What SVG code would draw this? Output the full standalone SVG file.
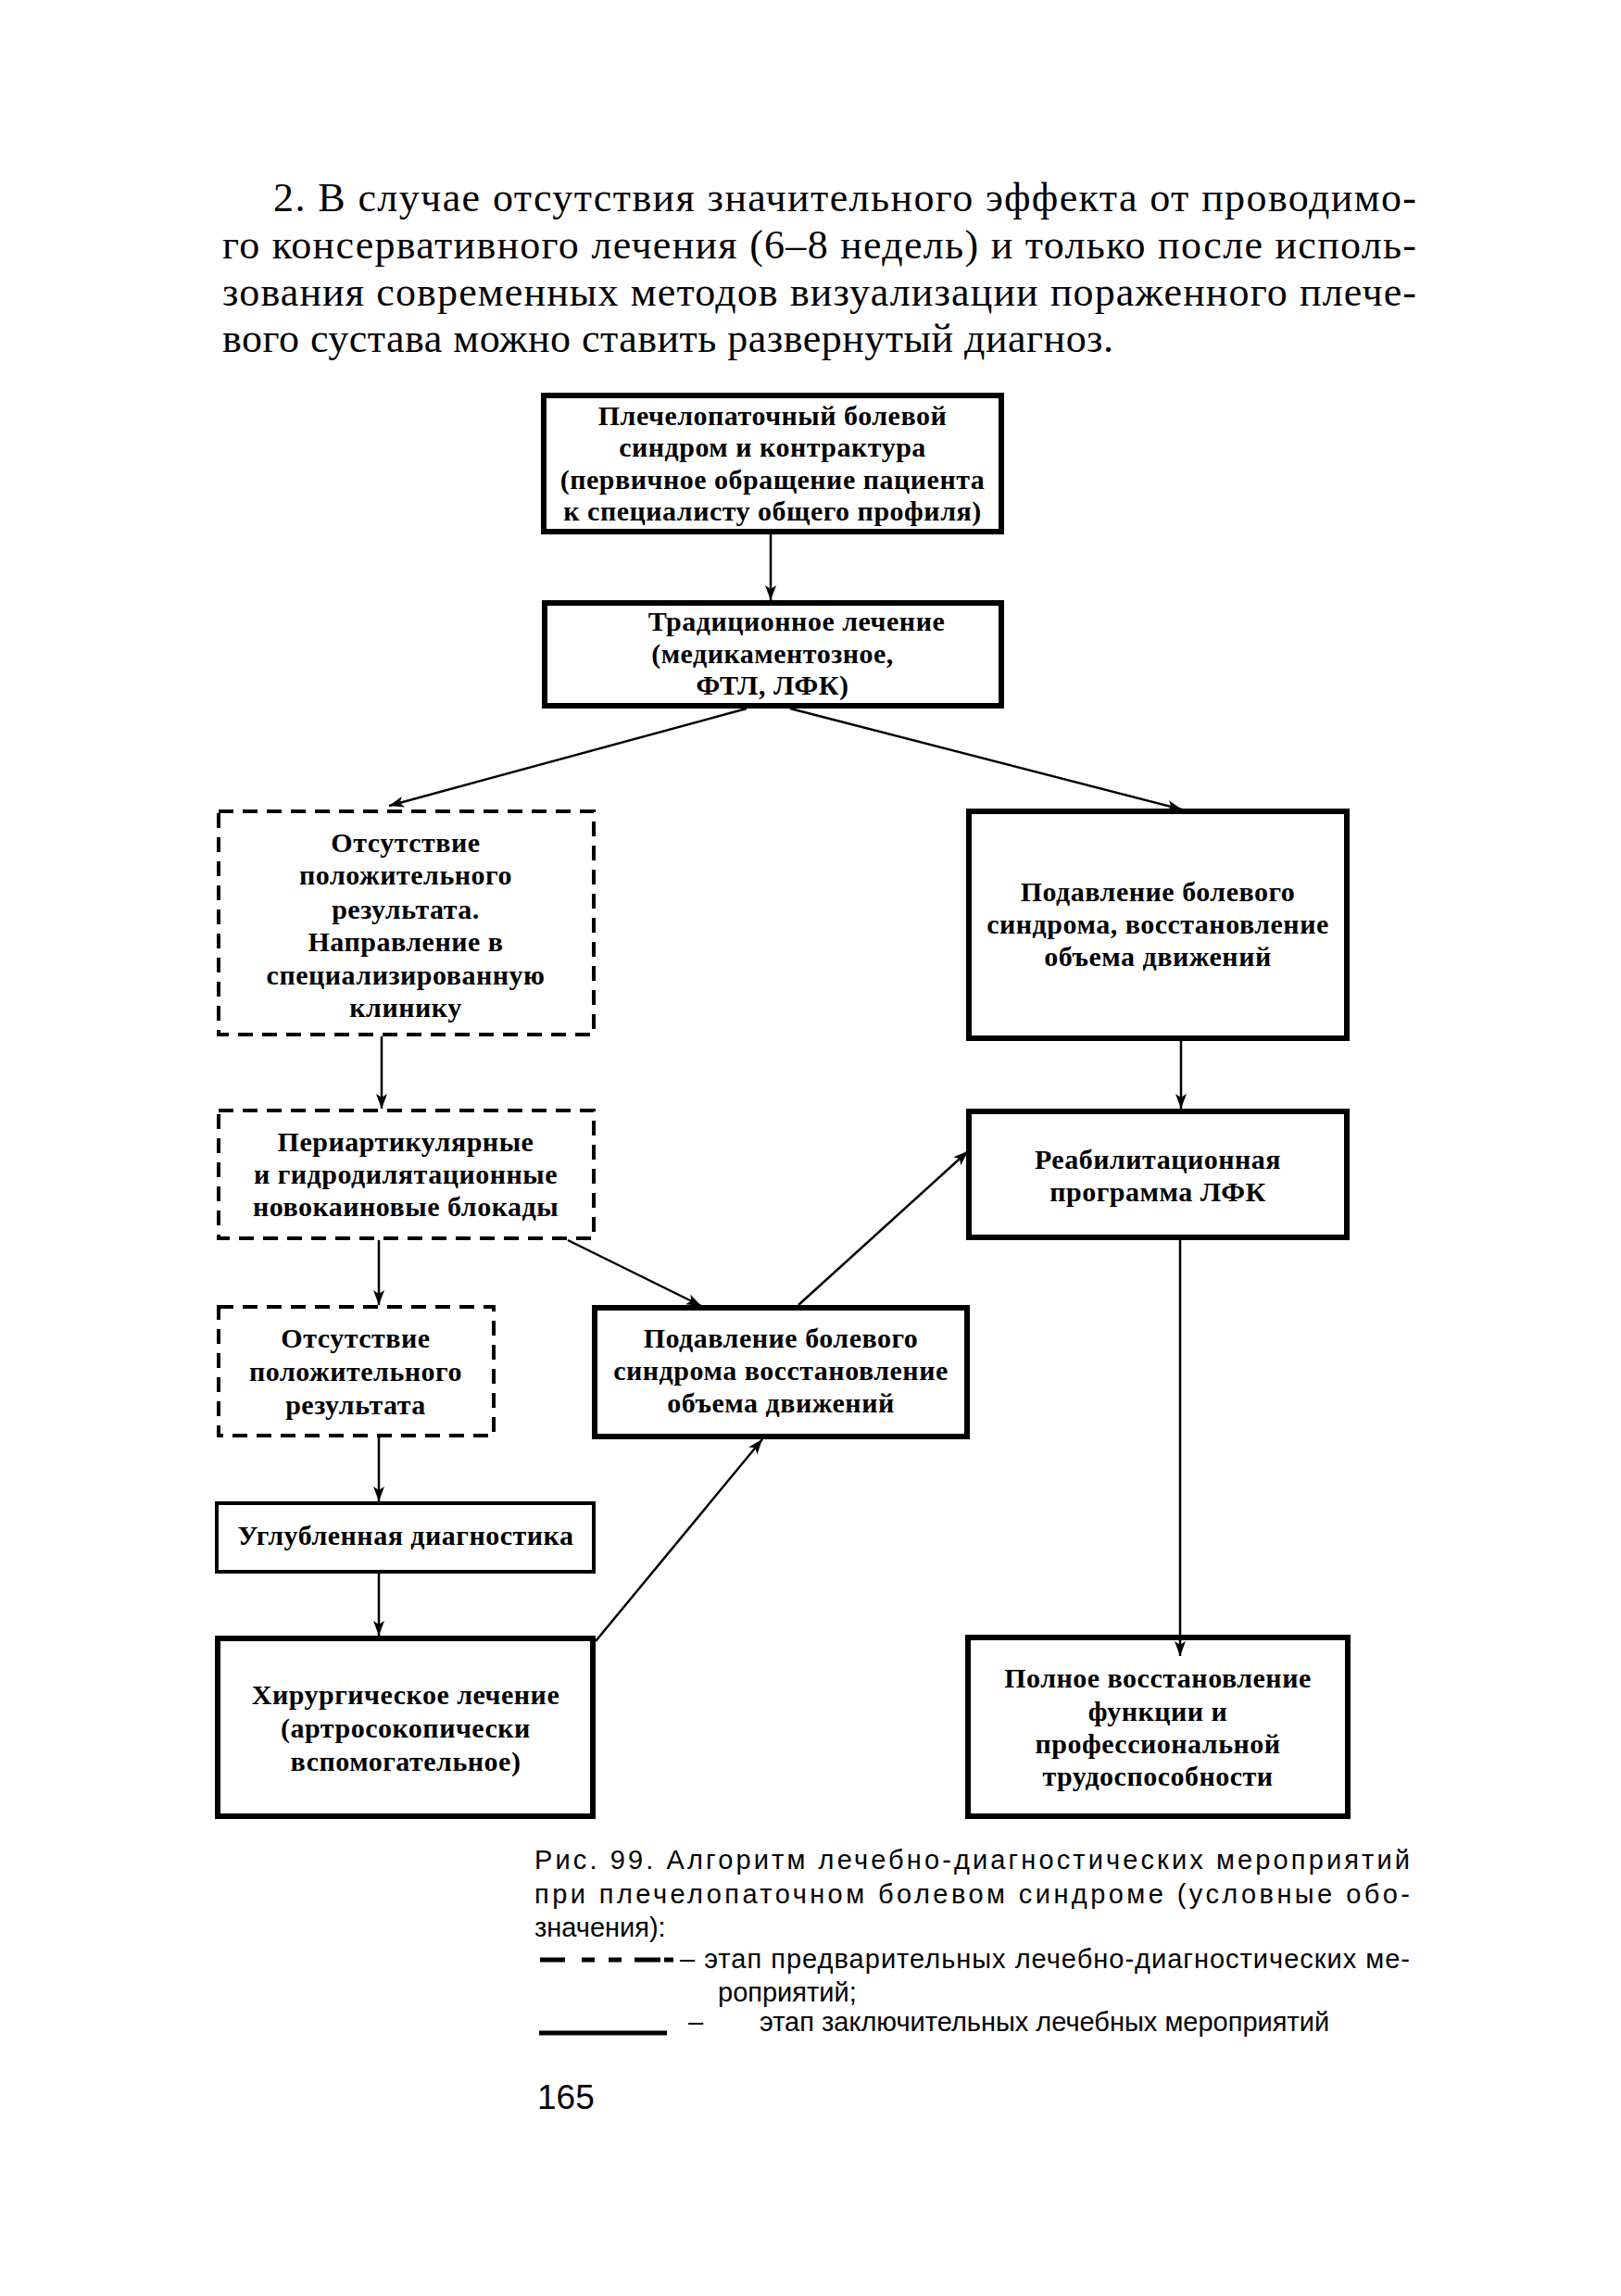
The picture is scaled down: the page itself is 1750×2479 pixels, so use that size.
<svg xmlns="http://www.w3.org/2000/svg" width="1750" height="2479" viewBox="0 0 1750 2479">
<style>
.bg{fill:#fff}
.box{fill:none;stroke:#000;stroke-width:6}
.thin{fill:none;stroke:#000;stroke-width:4}
.dash{fill:none;stroke:#000;stroke-width:4;stroke-dasharray:16 10}
.c{stroke:#000;stroke-width:2.5;fill:none}
.b{font-family:"Liberation Serif","Times New Roman",serif;font-weight:bold;font-size:30px;letter-spacing:0.5px;text-anchor:middle;fill:#000}
.p{font-family:"Liberation Serif","Times New Roman",serif;font-size:44px;fill:#000}
.s{font-family:"Liberation Sans",Arial,sans-serif;font-size:29px;fill:#000}
</style>
<defs>
<marker id="ah" markerUnits="userSpaceOnUse" markerWidth="18" markerHeight="14" refX="16" refY="6" orient="auto">
<path d="M0,0 L16,6 L0,12 L4,6 z" fill="#000"/>
</marker>
</defs>
<rect class="bg" x="0" y="0" width="1750" height="2479"/>
<g id="paragraph">
<text class="p" x="295" y="228" textLength="1234" lengthAdjust="spacing">2. В случае отсутствия значительного эффекта от проводимо-</text>
<text class="p" x="240" y="279" textLength="1289" lengthAdjust="spacing">го консервативного лечения (6–8 недель) и только после исполь-</text>
<text class="p" x="240" y="330" textLength="1289" lengthAdjust="spacing">зования современных методов визуализации пораженного плече-</text>
<text class="p" x="240" y="380" textLength="962" lengthAdjust="spacing">вого сустава можно ставить развернутый диагноз.</text>
</g>
<g id="connectors">
<line class="c" x1="832" y1="577" x2="832" y2="648" marker-end="url(#ah)"/>
<line class="c" x1="806" y1="765" x2="420" y2="870" marker-end="url(#ah)"/>
<line class="c" x1="853" y1="765" x2="1276" y2="874" marker-end="url(#ah)"/>
<line class="c" x1="412" y1="1119" x2="412" y2="1197" marker-end="url(#ah)"/>
<line class="c" x1="1275" y1="1124" x2="1275" y2="1197" marker-end="url(#ah)"/>
<line class="c" x1="409" y1="1339" x2="409" y2="1409" marker-end="url(#ah)"/>
<line class="c" x1="613" y1="1339" x2="757" y2="1410" marker-end="url(#ah)"/>
<line class="c" x1="862" y1="1409" x2="1045" y2="1243" marker-end="url(#ah)"/>
<line class="c" x1="409" y1="1552" x2="409" y2="1621" marker-end="url(#ah)"/>
<line class="c" x1="409" y1="1699" x2="409" y2="1766" marker-end="url(#ah)"/>
<line class="c" x1="643" y1="1772" x2="823" y2="1554" marker-end="url(#ah)"/>
<line class="c" x1="1274" y1="1339" x2="1274" y2="1788" marker-end="url(#ah)"/>
</g>
<g id="n1">
<rect class="box" x="587" y="427" width="494" height="147"/>
<text class="b" x="834" y="459">Плечелопаточный болевой</text>
<text class="b" x="834" y="493">синдром и контрактура</text>
<text class="b" x="834" y="528">(первичное обращение пациента</text>
<text class="b" x="834" y="562">к специалисту общего профиля)</text>
</g>
<g id="n2">
<rect class="box" x="588" y="651" width="493" height="111"/>
<text class="b" x="860" y="681">Традиционное лечение</text>
<text class="b" x="834" y="716">(медикаментозное,</text>
<text class="b" x="834" y="750">ФТЛ, ЛФК)</text>
</g>
<g id="n3">
<rect class="dash" x="236" y="876" width="405" height="241"/>
<text class="b" x="438" y="920">Отсутствие</text>
<text class="b" x="438" y="955">положительного</text>
<text class="b" x="438" y="992">результата.</text>
<text class="b" x="438" y="1027">Направление в</text>
<text class="b" x="438" y="1063">специализированную</text>
<text class="b" x="438" y="1098">клинику</text>
</g>
<g id="n4">
<rect class="box" x="1046" y="876" width="408" height="245"/>
<text class="b" x="1250" y="973">Подавление болевого</text>
<text class="b" x="1250" y="1008">синдрома, восстановление</text>
<text class="b" x="1250" y="1043">объема движений</text>
</g>
<g id="n5">
<rect class="dash" x="236" y="1199" width="405" height="138"/>
<text class="b" x="438" y="1243">Периартикулярные</text>
<text class="b" x="438" y="1278">и гидродилятационные</text>
<text class="b" x="438" y="1313">новокаиновые блокады</text>
</g>
<g id="n6">
<rect class="box" x="1046" y="1200" width="408" height="136"/>
<text class="b" x="1250" y="1262">Реабилитационная</text>
<text class="b" x="1250" y="1297">программа ЛФК</text>
</g>
<g id="n7">
<rect class="dash" x="236" y="1411" width="297" height="139"/>
<text class="b" x="384" y="1455">Отсутствие</text>
<text class="b" x="384" y="1491">положительного</text>
<text class="b" x="384" y="1527">результата</text>
</g>
<g id="n8">
<rect class="box" x="642" y="1412" width="402" height="139"/>
<text class="b" x="843" y="1455">Подавление болевого</text>
<text class="b" x="843" y="1490">синдрома восстановление</text>
<text class="b" x="843" y="1525">объема движений</text>
</g>
<g id="n9">
<rect class="thin" x="234" y="1623" width="407" height="74"/>
<text class="b" x="438" y="1668">Углубленная диагностика</text>
</g>
<g id="n10">
<rect class="box" x="235" y="1769" width="405" height="192"/>
<text class="b" x="438" y="1840">Хирургическое лечение</text>
<text class="b" x="438" y="1876">(артросокопически</text>
<text class="b" x="438" y="1912">вспомогательное)</text>
</g>
<g id="n11">
<rect class="box" x="1045" y="1768" width="410" height="193"/>
<text class="b" x="1250" y="1822">Полное восстановление</text>
<text class="b" x="1250" y="1858">функции и</text>
<text class="b" x="1250" y="1893">профессиональной</text>
<text class="b" x="1250" y="1928">трудоспособности</text>
</g>
<g id="caption">
<text class="s" x="577" y="2018" textLength="945" lengthAdjust="spacing">Рис. 99. Алгоритм лечебно-диагностических мероприятий</text>
<text class="s" x="577" y="2055" textLength="945" lengthAdjust="spacing">при плечелопаточном болевом синдроме (условные обо-</text>
<text class="s" x="577" y="2091">значения):</text>
<path d="M583,2116 H610 M628,2116 H642 M657,2116 H671 M685,2116 H713 M717,2116 H727" stroke="#000" stroke-width="5" fill="none"/>
<text class="s" x="734" y="2125" textLength="788" lengthAdjust="spacing">– этап  предварительных лечебно-диагностических ме-</text>
<text class="s" x="775" y="2161">роприятий;</text>
<line x1="582" y1="2195" x2="720" y2="2195" stroke="#000" stroke-width="5"/>
<text class="s" x="743" y="2193">–</text>
<text class="s" x="820" y="2193">этап заключительных лечебных мероприятий</text>
<text class="s" x="580" y="2277" style="font-size:37px">165</text>
</g>
</svg>
